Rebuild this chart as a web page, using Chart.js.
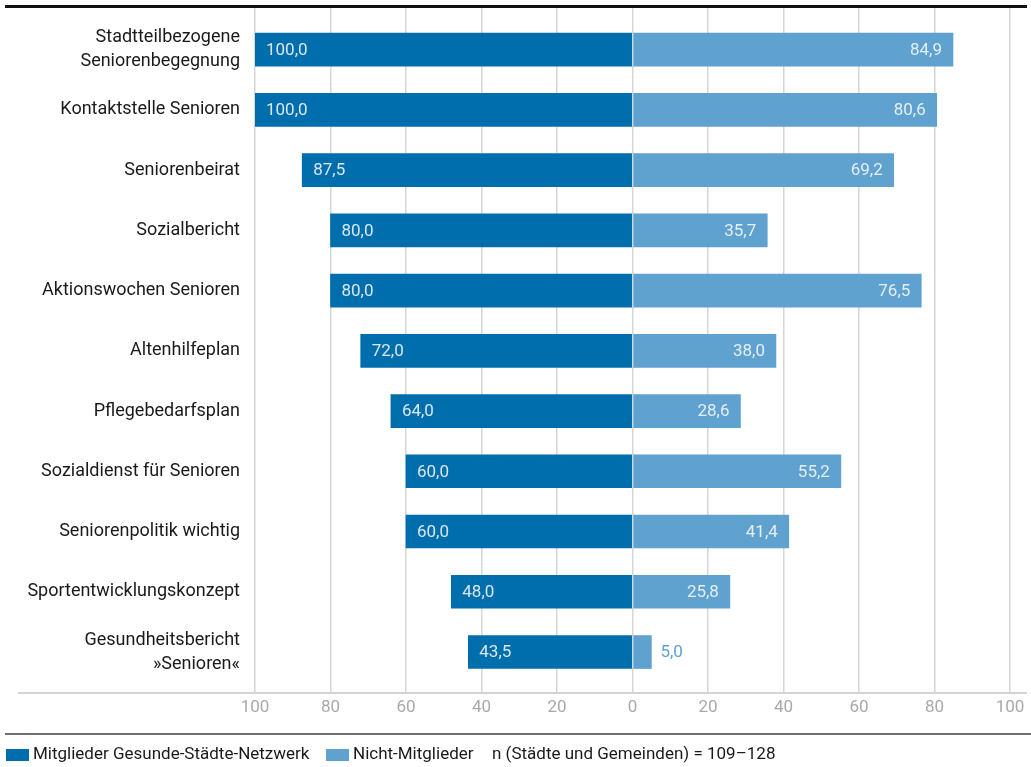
<!DOCTYPE html>
<html><head><meta charset="utf-8">
<script src="https://cdn.jsdelivr.net/npm/chart.js@4.4.0/dist/chart.umd.min.js"></script>
<style>html,body{margin:0;padding:0;background:#fff;}#wrap{width:1031px;height:767px;position:relative}</style>
</head><body><div id="wrap"><canvas id="c" width="1031" height="767"></canvas></div>
<script>
const categories = [["Stadtteilbezogene","Seniorenbegegnung"],"Kontaktstelle Senioren","Seniorenbeirat","Sozialbericht","Aktionswochen Senioren","Altenhilfeplan","Pflegebedarfsplan","Sozialdienst für Senioren","Seniorenpolitik wichtig","Sportentwicklungskonzept",["Gesundheitsbericht","»Senioren«"]];
const members = [100.0,100.0,87.5,80.0,80.0,72.0,64.0,60.0,60.0,48.0,43.5];
const nonMembers = [84.9,80.6,69.2,35.7,76.5,38.0,28.6,55.2,41.4,25.8,5.0];
const xTicks = [-100,-80,-60,-40,-20,0,20,40,60,80,100];
const seriesNames = ["Mitglieder Gesunde-Städte-Netzwerk","Nicht-Mitglieder"];
const note = "n (Städte und Gemeinden) = 109–128";

const DARK = "#006eac", LIGHT = "#5fa1cf";
const FONT = "Roboto";
const fmt = v => v.toFixed(1).replace(".", ",");

const deco = {
  id: "deco",
  beforeDraw(chart) {
    const c = chart.ctx; c.save(); c.fillStyle = "#fff"; c.fillRect(0,0,chart.width,chart.height); c.restore();
  },
  afterDatasetsDraw(chart) {
    const c = chart.ctx, x0 = chart.scales.x.getPixelForValue(0);
    c.save();
    c.strokeStyle = "rgba(255,255,255,0.55)"; c.lineWidth = 1;
    chart.getDatasetMeta(0).data.forEach(b => { c.beginPath(); c.moveTo(x0+0.5, b.y - b.height/2); c.lineTo(x0+0.5, b.y + b.height/2); c.stroke(); });
    c.font = "17px " + FONT; c.textBaseline = "middle";
    chart.getDatasetMeta(0).data.forEach((b, i) => {
      c.fillStyle = "rgba(235,242,250,0.92)"; c.textAlign = "left";
      c.fillText(fmt(members[i]), b.x + 11, b.y + 1);
    });
    chart.getDatasetMeta(1).data.forEach((b, i) => {
      const w = b.x - x0;
      if (w > 40) { c.fillStyle = "rgba(240,245,250,0.92)"; c.textAlign = "right"; c.fillText(fmt(nonMembers[i]), b.x - 11, b.y + 1); }
      else { c.fillStyle = LIGHT; c.textAlign = "left"; c.fillText(fmt(nonMembers[i]), b.x + 9, b.y + 1); }
    });
    c.restore();
  },
  afterDraw(chart) {
    const c = chart.ctx, a = chart.chartArea;
    c.save();
    c.strokeStyle = "#111"; c.lineWidth = 3;
    c.beginPath(); c.moveTo(5, 6.5); c.lineTo(1027, 6.5); c.stroke();
    c.strokeStyle = "#d4d4d4"; c.lineWidth = 2;
    c.beginPath(); c.moveTo(18, a.bottom); c.lineTo(1027, a.bottom); c.stroke();
    c.strokeStyle = "#6e6e6e"; c.lineWidth = 2;
    c.beginPath(); c.moveTo(5, 734); c.lineTo(1031, 734); c.stroke();
    c.font = "17px " + FONT; c.textBaseline = "middle"; c.textAlign = "left";
    const ly = 755;
    c.fillStyle = DARK; c.fillRect(6, 749, 23, 12);
    c.fillStyle = "#1a1a1a"; c.fillText(seriesNames[0], 33, ly);
    c.fillStyle = LIGHT; c.fillRect(326, 749, 23, 12);
    c.fillStyle = "#1a1a1a"; c.fillText(seriesNames[1], 353, ly);
    c.fillText(note, 492, ly);
    c.restore();
  }
};

new Chart(document.getElementById("c"), {
  type: "bar",
  data: {
    datasets: [
      { label: seriesNames[0], data: members.map((v,i)=>({x:-v, y:i})), backgroundColor: DARK, grouped: false, barThickness: 33 },
      { label: seriesNames[1], data: nonMembers.map((v,i)=>({x:v, y:i})), backgroundColor: LIGHT, grouped: false, barThickness: 33 }
    ]
  },
  options: {
    indexAxis: "y",
    responsive: false,
    animation: false,
    layout: { padding: { left: 0, right: 21, top: 8, bottom: 44 } },
    plugins: { legend: { display: false }, tooltip: { enabled: false } },
    scales: {
      x: {
        type: "linear", min: -100, max: 100,
        afterBuildTicks: s => { s.ticks = xTicks.map(v => ({ value: v })); },
        afterFit: s => { s.height = 30; s.paddingLeft = 0; s.paddingRight = 0; },
        ticks: { callback: v => String(Math.abs(v)), color: "#a9a9a9", font: { family: FONT, size: 17 }, padding: 5, maxRotation: 0 },
        grid: { color: "#d6d6d6", lineWidth: 1.5, drawTicks: false },
        border: { display: false }
      },
      y: {
        type: "linear", reverse: true, min: -0.69, max: 10.68, offset: false,
        afterBuildTicks: s => { s.ticks = categories.map((c,i) => ({ value: i })); },
        afterFit: s => { s.width = 255; s.paddingTop = 0; s.paddingBottom = 0; },
        ticks: { callback: v => categories[v], color: "#1a1a1a", font: { family: FONT, size: 18, lineHeight: 1.33 }, padding: 7, autoSkip: false },
        grid: { display: false, offset: false },
        border: { display: false }
      }
    }
  },
  plugins: [deco]
});
</script></body></html>
